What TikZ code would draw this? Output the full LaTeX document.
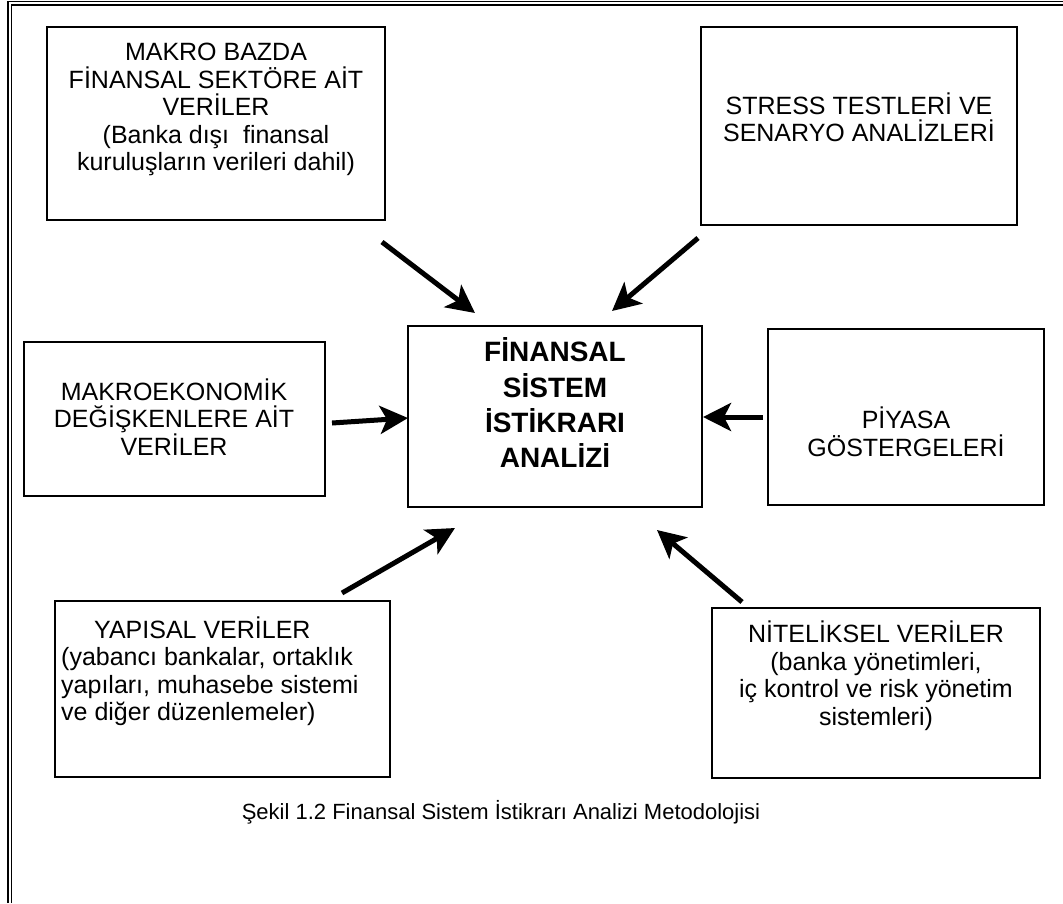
\documentclass[tikz,border=0pt]{standalone}
\usepackage{fontspec}
\setmainfont{Liberation Sans}
\usetikzlibrary{arrows.meta}
\begin{document}
\begin{tikzpicture}[x=1pt,y=-1pt,
  box/.style={draw=black,line width=1.5pt,inner sep=0pt},
  txt/.style={align=center,inner sep=0pt,font=\fontsize{25}{27.5}\selectfont},
  bigtxt/.style={align=center,inner sep=0pt,font=\fontsize{28}{35}\selectfont\bfseries},
  arr/.style={line width=5pt,-{Stealth[length=28pt,width=28pt,inset=7pt]}},
  frame/.style={line width=1.3pt}]
\useasboundingbox (0,0) rectangle (1063,903);
% frame
\draw[frame] (8,903) -- (8,1.5) -- (1063,1.5);
\draw[frame] (11.7,903) -- (11.7,5) -- (1063,5);
% boxes
\draw[box] (47,27) rectangle (385,220);
\draw[box] (701,27) rectangle (1017,225);
\draw[box] (24,342) rectangle (325,496);
\draw[box] (408,326) rectangle (702,507);
\draw[box] (768,329) rectangle (1044,505);
\draw[box] (55,601) rectangle (390,777);
\draw[box] (712,608) rectangle (1040,778);
% texts
\node[txt] (t1) at (216,109.5) {MAKRO BAZDA\\FİNANSAL SEKTÖRE AİT\\VERİLER\\(Banka dışı\ \ finansal\\kuruluşların verileri dahil)};
\node[txt] (t2) at (859,117.5) {STRESS TESTLERİ VE\\SENARYO ANALİZLERİ};
\node[txt] (t3) at (174,417) {MAKROEKONOMİK\\DEĞİŞKENLERE AİT\\VERİLER};
\node[bigtxt] (c) at (555,402.5) {FİNANSAL\\SİSTEM\\İSTİKRARI\\ANALİZİ};
\node[txt] (t4) at (906,432) {PİYASA\\GÖSTERGELERİ};
\node[txt,align=left,anchor=west] (t5) at (61,671) {\hspace*{33pt}YAPISAL VERİLER\\(yabancı bankalar, ortaklık\\yapıları, muhasebe sistemi\\ve diğer düzenlemeler)};
\node[txt] (t6) at (876,675.5) {NİTELİKSEL VERİLER\\(banka yönetimleri,\\iç kontrol ve risk yönetim\\sistemleri)};
\node[inner sep=0pt,font=\fontsize{22}{26}\selectfont] (cap) at (501,812) {Şekil 1.2 Finansal Sistem İstikrarı Analizi Metodolojisi};
% arrow ends
\coordinate (a1s) at (382,242); \coordinate (a1e) at (475,313);
\coordinate (a2s) at (698,238); \coordinate (a2e) at (612,311);
\coordinate (a3s) at (332,423); \coordinate (a3e) at (408,418);
\coordinate (a4s) at (763,417); \coordinate (a4e) at (703,417);
\coordinate (a5s) at (342,593); \coordinate (a5e) at (455,528);
\coordinate (a6s) at (742,602); \coordinate (a6e) at (657,530);
\draw[arr] (a1s) -- (a1e);
\draw[arr] (a2s) -- (a2e);
\draw[arr] (a3s) -- (a3e);
\draw[arr] (a4s) -- (a4e);
\draw[arr] (a5s) -- (a5e);
\draw[arr] (a6s) -- (a6e);
\end{tikzpicture}
\end{document}
